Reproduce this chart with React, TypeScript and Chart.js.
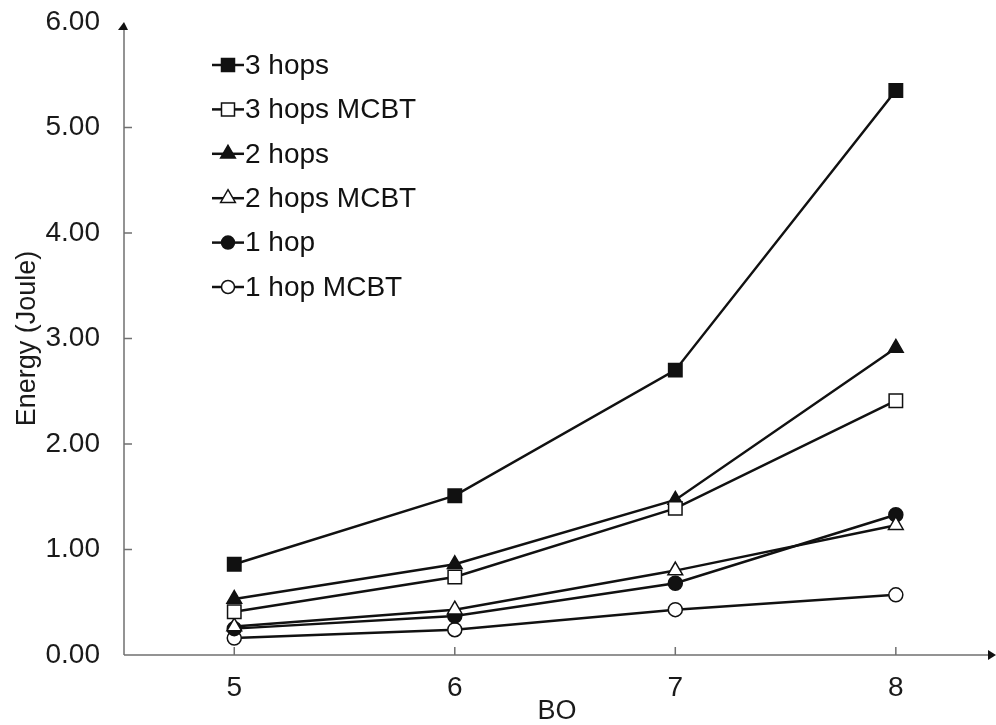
import React, { useEffect, useRef } from "react";
import { Chart, registerables } from "chart.js";

Chart.register(...registerables);

const categories = [5, 6, 7, 8];
const yTicks = [0, 1, 2, 3, 4, 5, 6];

const hops3 = [0.86, 1.51, 2.70, 5.35];
const hops3MCBT = [0.41, 0.74, 1.39, 2.41];
const hops2 = [0.53, 0.86, 1.47, 2.91];
const hops2MCBT = [0.27, 0.43, 0.80, 1.23];
const hop1 = [0.25, 0.37, 0.68, 1.33];
const hop1MCBT = [0.16, 0.24, 0.43, 0.57];

const seriesNames = ["3 hops", "3 hops MCBT", "2 hops", "2 hops MCBT", "1 hop", "1 hop MCBT"];
const seriesValues = [hops3, hops3MCBT, hops2, hops2MCBT, hop1, hop1MCBT];
const seriesShapes = ["rect", "rect", "triangle", "triangle", "circle", "circle"];
const seriesFilled = [true, false, true, false, true, false];

const FONT = "'Liberation Sans', Arial, sans-serif";

const axesPlugin = {
  id: "arrowAxes",
  afterDraw(chart: any) {
    const { ctx, chartArea } = chart;
    const x = chart.scales.x;
    const y = chart.scales.y;
    const left = chartArea.left;
    const bottom = chartArea.bottom;
    ctx.save();
    ctx.strokeStyle = "#707070";
    ctx.lineWidth = 1.5;
    ctx.beginPath();
    ctx.moveTo(left, bottom);
    ctx.lineTo(left, chartArea.top + 2);
    ctx.moveTo(left, bottom);
    ctx.lineTo(chartArea.right - 2, bottom);
    y.ticks.forEach((t: any) => {
      const py = y.getPixelForValue(t.value);
      if (t.value === 0 || t.value === 6) return;
      ctx.moveTo(left, py);
      ctx.lineTo(left + 8, py);
    });
    x.ticks.forEach((t: any) => {
      const px = x.getPixelForValue(t.value);
      ctx.moveTo(px, bottom);
      ctx.lineTo(px, bottom - 8);
    });
    ctx.stroke();
    ctx.fillStyle = "#111";
    ctx.beginPath();
    ctx.moveTo(left, chartArea.top);
    ctx.lineTo(left - 6, chartArea.top + 8);
    ctx.lineTo(left + 4, chartArea.top + 8);
    ctx.closePath();
    ctx.fill();
    ctx.beginPath();
    ctx.moveTo(chartArea.right + 6, bottom);
    ctx.lineTo(chartArea.right - 2, bottom - 5);
    ctx.lineTo(chartArea.right - 2, bottom + 5);
    ctx.closePath();
    ctx.fill();
    ctx.restore();
  },
};

const legendPlugin = {
  id: "innerLegend",
  afterDraw(chart: any) {
    const { ctx } = chart;
    const startY = 65;
    const rowH = 44.4;
    ctx.save();
    chart.data.datasets.forEach((ds: any, i: number) => {
      const cy = startY + i * rowH;
      ctx.strokeStyle = "#111";
      ctx.lineWidth = 2.5;
      ctx.beginPath();
      ctx.moveTo(212, cy);
      ctx.lineTo(244, cy);
      ctx.stroke();
      ctx.lineWidth = 1.5;
      ctx.fillStyle = ds.pointBackgroundColor;
      ctx.strokeStyle = "#111";
      const shape = ds.pointStyle;
      const r = shape === "rect" ? 6.5 : shape === "circle" ? 6.5 : 8.5;
      ctx.beginPath();
      if (shape === "rect") {
        ctx.rect(228 - r, cy - r, 2 * r, 2 * r);
      } else if (shape === "circle") {
        ctx.arc(228, cy, r, 0, Math.PI * 2);
      } else {
        ctx.moveTo(228, cy - r);
        ctx.lineTo(228 + r * 0.866, cy + r * 0.5);
        ctx.lineTo(228 - r * 0.866, cy + r * 0.5);
        ctx.closePath();
      }
      ctx.fill();
      ctx.stroke();
      ctx.fillStyle = "#111";
      ctx.font = `28px ${FONT}`;
      ctx.textBaseline = "middle";
      ctx.textAlign = "left";
      ctx.fillText(ds.label, 245, cy + 1);
    });
    ctx.restore();
  },
};

export default function App() {
  const canvasRef = useRef<HTMLCanvasElement | null>(null);

  useEffect(() => {
    if (!canvasRef.current) return;
    const datasets = seriesNames.map((name, i) => ({
      label: name,
      data: categories.map((c, j) => ({ x: c, y: seriesValues[i][j] })),
      borderColor: "#111",
      borderWidth: 2.5,
      pointStyle: seriesShapes[i],
      pointRadius: seriesShapes[i] === "rect" ? 9.5 : seriesShapes[i] === "circle" ? 7 : 8.5,
      pointBorderWidth: 1.5,
      pointBorderColor: "#111",
      pointBackgroundColor: seriesFilled[i] ? "#111" : "#fff",
      fill: false,
      clip: false,
      tension: 0,
    }));
    const chart = new Chart(canvasRef.current, {
      type: "line",
      data: { datasets: datasets as any },
      options: {
        animation: false,
        responsive: false,
        devicePixelRatio: 1,
        layout: { autoPadding: false, padding: { top: 22, right: 6, left: 0, bottom: 0 } },
        plugins: {
          legend: { display: false },
          tooltip: { enabled: false },
        },
        scales: {
          x: {
            type: "linear",
            min: 4.5,
            max: 8.427,
            afterBuildTicks: (scale: any) => {
              scale.ticks = categories.map((v) => ({ value: v }));
            },
            afterFit: (scale: any) => {
              scale.height = 70;
              scale.paddingLeft = 0;
              scale.paddingRight = 0;
            },
            grid: { display: false, drawTicks: false },
            border: { display: false },
            ticks: {
              padding: 16,
              color: "#1a1a1a",
              font: { family: FONT, size: 28 },
              callback: (v: any) => String(v),
            },
            title: {
              display: true,
              text: "BO",
              color: "#1a1a1a",
              font: { family: FONT, size: 27, lineHeight: 1 },
              padding: { top: 0, bottom: 0 },
            },
          },
          y: {
            type: "linear",
            min: 0,
            max: 6,
            afterBuildTicks: (scale: any) => {
              scale.ticks = yTicks.map((v) => ({ value: v }));
            },
            afterFit: (scale: any) => {
              scale.width = 124;
              scale.paddingTop = 0;
              scale.paddingBottom = 0;
            },
            grid: { display: false, drawTicks: false },
            border: { display: false },
            ticks: {
              padding: 24,
              color: "#1a1a1a",
              font: { family: FONT, size: 28 },
              callback: (v: any) => Number(v).toFixed(2),
            },
            title: {
              display: true,
              text: "Energy (Joule)",
              color: "#1a1a1a",
              font: { family: FONT, size: 27, lineHeight: 1.2 },
              padding: { top: 11, bottom: 0 },
            },
          },
        },
      },
      plugins: [axesPlugin, legendPlugin],
    });
    return () => chart.destroy();
  }, []);

  return (
    <div style={{ position: "fixed", left: 0, top: 0, width: 996, height: 725, background: "#fff" }}>
      <canvas ref={canvasRef} width={996} height={725} style={{ display: "block" }} />
    </div>
  );
}
